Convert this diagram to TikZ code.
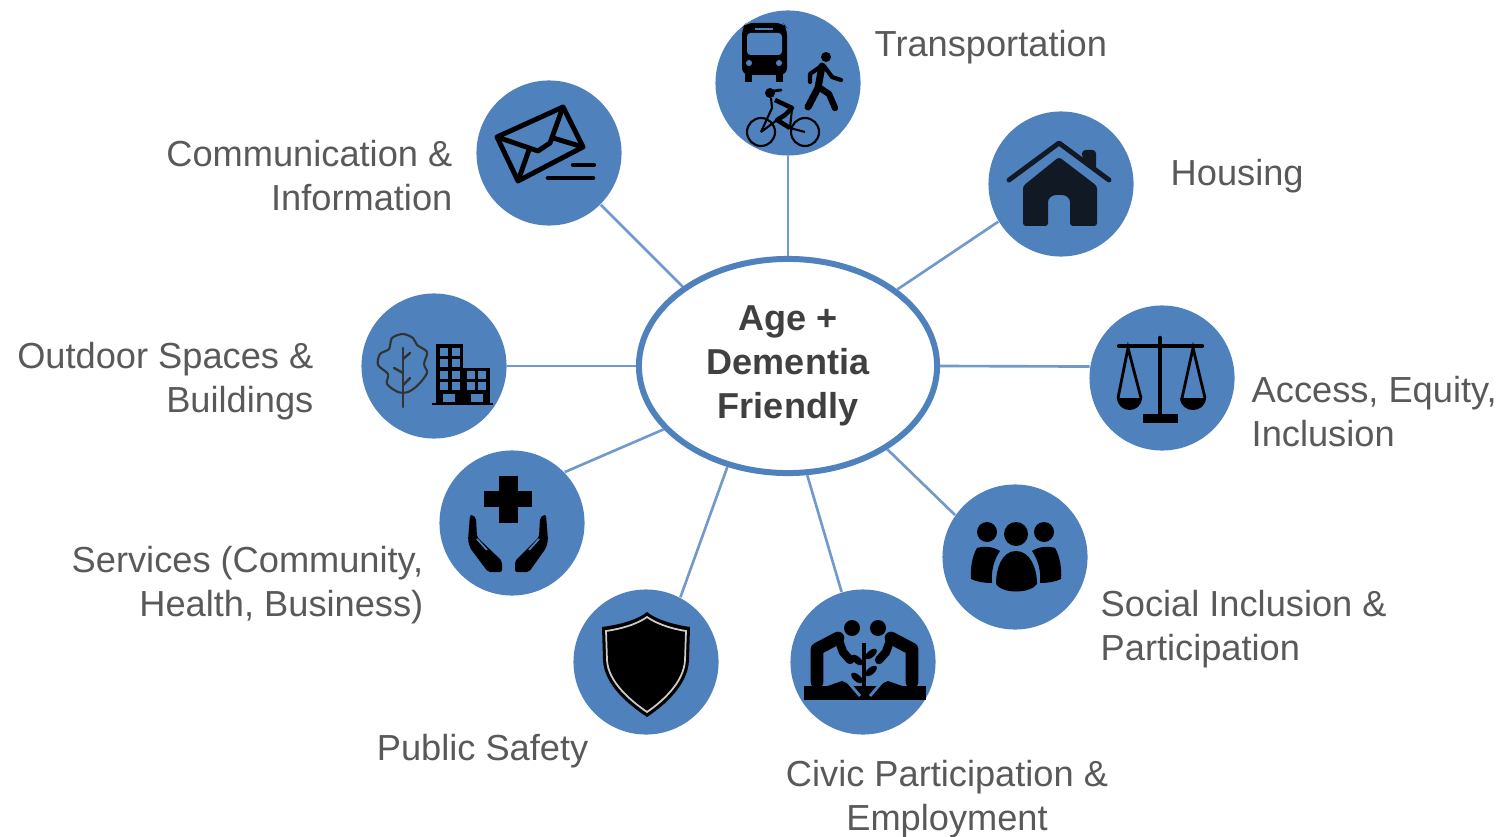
\documentclass[tikz,border=0pt]{standalone}
\usepackage{fontspec}
\setmainfont{Liberation Sans}
\usetikzlibrary{shapes.geometric}

\definecolor{themeblue}{HTML}{4F81BD}
\definecolor{spokeblue}{HTML}{7299CC}
\definecolor{labelgray}{HTML}{595959}
\definecolor{hubgray}{HTML}{404040}
\definecolor{houseink}{HTML}{111A24}

\tikzset{
  theme/.style={circle,fill=themeblue,minimum size=1.45cm,inner sep=0pt},
  hub/.style={ellipse,draw=themeblue,line width=1.7pt,fill=white,minimum width=2.98cm,minimum height=2.14cm,inner sep=0pt,
    align=center,text=hubgray,font=\fontsize{10.25}{12.5}\selectfont\bfseries},
  spoke/.style={draw=spokeblue,line width=.75pt},
  lab/.style={text=labelgray,inner sep=0pt,font=\fontsize{10.3}{12.5}\selectfont},
  labl/.style={lab,anchor=west,align=left},
  labr/.style={lab,anchor=east,align=right}
}

\begin{document}
\begin{tikzpicture}[x=.01cm,y=-.01cm]
\useasboundingbox (0,0) rectangle (1507,837);

\node[hub] (age) at (788,366) {Age +\\Dementia\\Friendly};

\node[theme] (transport) at (788,83) {};
\node[theme] (housing) at (1061,184) {};
\node[theme] (access) at (1162,378) {};
\node[theme] (social) at (1015,557) {};
\node[theme] (civic) at (863,662) {};
\node[theme] (safety) at (646,662) {};
\node[theme] (services) at (512,523) {};
\node[theme] (outdoor) at (434,366) {};
\node[theme] (comm) at (549,153) {};

\draw[spoke] (age.90) -- (transport.270);
\draw[spoke] (age.35) -- (housing.211);
\draw[spoke] (age.0) -- (access.171);
\draw[spoke] (age.-40) -- (social.145);
\draw[spoke] (age.-80) -- (civic.107);
\draw[spoke] (age.-121) -- (safety.62);
\draw[spoke] (age.207) -- (services.44);
\draw[spoke] (age.180) -- (outdoor.0);
\draw[spoke] (age.143) -- (comm.-45);

\node[labl] (transportlab) at (874,47) {Transportation};
\node[labl] (housinglab) at (1170,176) {Housing};
\node[labl] (accesslab) at (1251,412) {Access, Equity,\\Inclusion};
\node[labl] (sociallab) at (1100,629) {Social Inclusion \&\\Participation};
\node[lab,align=center] (civiclab) at (947,799) {Civic Participation \&\\Employment};
\node[labr] (safetylab) at (589,751) {Public Safety};
\node[labr] (serviceslab) at (424,585) {Services (Community,\\Health, Business)};
\node[labr] (outdoorlab) at (314,381) {Outdoor Spaces \&\\Buildings};
\node[labr] (commlab) at (453,176) {Communication \&\\Information};

%Transportation
\fill[black,rounded corners=2pt] (742,28) -- (746,23) -- (783,23) -- (787,28) -- (787,75) -- (742,75) -- cycle;
\fill[black] (745,74) rectangle (752,82);
\fill[black] (776,74) rectangle (783,82);
\fill[themeblue,rounded corners=1pt] (747,33) rectangle (782,55);
\fill[themeblue] (755,28) rectangle (773,30);
\fill[themeblue] (749,63) circle (3);
\fill[themeblue] (779,63) circle (3);
\fill[black] (826,57) circle (5);
\draw[black,line width=2pt,line cap=round,line join=round] (822,66) -- (818,88) -- (808,107);
\draw[black,line width=1.8pt,line cap=round,line join=round] (820,88) -- (829,94) -- (835,108);
\draw[black,line width=1.2pt,line cap=round,line join=round] (820,67) -- (810,74) -- (810,82);
\draw[black,line width=1.2pt,line cap=round,line join=round] (824,66) -- (832,77) -- (841,80);
\draw[black,line width=.6pt] (761,132) circle (14);
\draw[black,line width=.6pt] (805,132) circle (14);
\fill[black] (770,93) circle (5);
\draw[black,line width=.8pt,line cap=round] (774,91) -- (781,90);
\draw[black,line width=.6pt] (761,132) -- (772,108) -- (771,98);
\draw[black,line width=1.3pt,line join=round] (775,100) -- (792,108) -- (785,115) -- (777,120) -- (790,128);
\draw[black,line width=.6pt] (777,120) -- (761,132);
\draw[black,line width=.6pt] (792,108) -- (790,128) -- (805,132);

%Communication
\draw[black,line width=1.4pt,line join=round] (497,137) -- (563,107) -- (583,147) -- (518,181) -- cycle;
\draw[black,line width=1.4pt,line join=round] (497,137) -- (538,151) -- (550,143) -- (563,107);
\draw[black,line width=1.4pt] (553,138) -- (583,147);
\draw[black,line width=1.4pt] (530,147) -- (518,181);
\draw[black,line width=1.2pt,line cap=round] (573,165) -- (594,165);
\draw[black,line width=1.3pt,line cap=round] (548,178) -- (593,178);

%Housing
\draw[houseink,line width=1.4pt,line cap=round,line join=round] (1009,180) -- (1059,143) -- (1109,180);
\fill[houseink,rounded corners=1pt] (1082,158) -- (1082,150) -- (1096,150) -- (1096,170) -- cycle;
\fill[houseink,rounded corners=.8pt] (1023,186) -- (1059,157) -- (1097,186) -- (1097,226) -- (1070,226) -- (1070,205)
  .. controls (1070,198) and (1066,195) .. (1059,195) .. controls (1052,195) and (1048,198) .. (1048,205)
  -- (1048,226) -- (1023,226) -- cycle;

%Access
\draw[black,line width=1.2pt,line cap=round] (1119,346) -- (1202,346);
\draw[black,line width=1.3pt,line cap=round] (1160,338) -- (1160,415);
\fill[black] (1143,414) rectangle (1178,423);
\draw[black,line width=.8pt] (1118,398) -- (1128,348) -- (1141,398);
\draw[black,line width=.8pt] (1182,398) -- (1193,348) -- (1205,398);
\fill[black] (1117,398) .. controls (1118,414) and (1141,414) .. (1142,398) -- cycle;
\fill[black] (1180,398) .. controls (1181,414) and (1205,414) .. (1206,398) -- cycle;

%Social
\fill[black] (1016,534) circle (12);
\fill[black] (987,532) circle (10);
\fill[black] (1044,532) circle (10);
\fill[black] (1016,551) .. controls (1002,551) and (996,568) .. (996,584)
  .. controls (1002,594) and (1030,594) .. (1037,584) .. controls (1037,568) and (1030,551) .. (1016,551) -- cycle;
\fill[black] (1000,551) .. controls (992,546) and (983,546) .. (977,548)
  .. controls (972,556) and (970,570) .. (971,579) .. controls (977,582) and (985,583) .. (992,583)
  .. controls (991,570) and (994,560) .. (1000,551) -- cycle;
\fill[black] (1032,551) .. controls (1040,546) and (1049,546) .. (1055,548)
  .. controls (1060,556) and (1062,570) .. (1061,579) .. controls (1055,582) and (1047,583) .. (1040,583)
  .. controls (1041,570) and (1038,560) .. (1032,551) -- cycle;

%Civic
\fill[black] (804,686) rectangle (926,700);
\fill[black] (852,628) circle (8);
\fill[black] (878,628) circle (8);
\draw[black,line width=3.6pt,line cap=round,line join=round] (817,682) -- (817,649) -- (838,638);
\draw[black,line width=3.6pt,line cap=round,line join=round] (912,682) -- (912,649) -- (891,638);
\draw[black,line width=2.4pt,line cap=round,line join=round] (838,638) -- (843,652) -- (850,660);
\draw[black,line width=2.4pt,line cap=round,line join=round] (891,638) -- (886,652) -- (879,660);
\fill[black] (822,688) -- (842,681) -- (858,688) -- cycle;
\fill[black] (872,688) -- (888,681) -- (908,688) -- cycle;
\draw[themeblue,line width=.8pt] (848,682) -- (860,696);
\draw[themeblue,line width=.8pt] (882,682) -- (870,696);
\draw[black,line width=1.1pt] (864,643) -- (864,698);
\fill[black,rotate around={-40:(857,660)}] (857,660) ellipse (7 and 3.5);
\fill[black,rotate around={40:(871,654)}] (871,654) ellipse (7 and 3.5);
\fill[black,rotate around={-40:(857,678)}] (857,678) ellipse (7 and 3.5);
\fill[black,rotate around={40:(871,671)}] (871,671) ellipse (7 and 3.5);

%Safety
\fill[black] (602,627) .. controls (625,624) and (640,618) .. (647,612) .. controls (654,618) and (669,624) .. (690,627) -- (689,660)
  .. controls (688,685) and (665,705) .. (647,717) .. controls (629,705) and (604,685) .. (603,660) -- cycle;
\draw[gray!40,line width=.5pt] (606,631) .. controls (627,628) and (640,622) .. (647,617) .. controls (654,622) and (667,628) .. (686,631) -- (685,660)
  .. controls (684,682) and (663,701) .. (647,712) .. controls (631,701) and (608,682) .. (607,660) -- cycle;

%Services
\fill[black] (499,476) rectangle (518,523);
\fill[black] (484,491) rectangle (532,507);
\fill[black,rounded corners=.6pt] (470,515) -- (473,515) -- (476,518) -- (477,537) -- (502,561) -- (502,572) -- (488,572) -- (470,548) -- (468,540) -- cycle;
\fill[black,rounded corners=.6pt] (546,515) -- (543,515) -- (540,518) -- (539,537) -- (515,561) -- (515,572) -- (529,572) -- (546,548) -- (548,540) -- cycle;
\draw[themeblue,line width=.5pt] (477,539) -- (487,550);
\draw[themeblue,line width=.5pt] (539,539) -- (529,550);

%Outdoor
\draw[black!80,line width=.6pt] plot[smooth cycle] coordinates {(398,392) (387,384) (388,374) (378,365) (380,354) (389,349) (392,338) (403,334) (413,338) (417,345) (427,352) (424,364) (427,373) (418,385) (408,392)};
\draw[black!80,line width=.8pt,line cap=round] (403,348) -- (403,407);
\draw[black!80,line width=.7pt,line cap=round] (403,359) -- (410,353);
\draw[black!80,line width=.7pt,line cap=round] (394,368) -- (403,373);
\draw[black!80,line width=.7pt,line cap=round] (403,385) -- (410,378);
\fill[black] (436,344) rectangle (463,403);
\fill[black] (463,368) rectangle (490,403);
\draw[black,line width=.8pt] (432,404) -- (493,404);
\foreach \xa in {440,452} \foreach \ya in {348,359,371,382}
  \fill[themeblue] (\xa,\ya) rectangle ++(8,8);
\foreach \xa in {467,478} \foreach \ya in {371,382}
  \fill[themeblue] (\xa,\ya) rectangle ++(8,8);
\fill[themeblue] (443,394) rectangle (455,402);
\fill[themeblue] (471,394) rectangle (483,402);

\end{tikzpicture}
\end{document}
